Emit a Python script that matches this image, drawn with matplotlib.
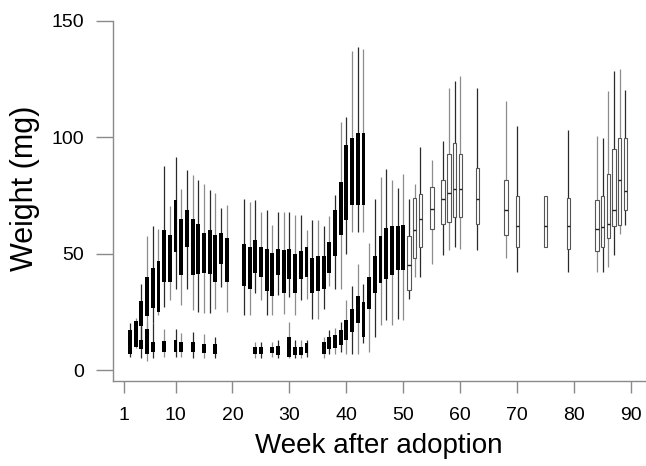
import matplotlib
matplotlib.use('Agg')
import matplotlib.pyplot as plt
import numpy as np

plt.rcParams['font.family'] = ['Liberation Sans', 'DejaVu Sans']

# heavier group (black boxes)
upper_weeks = [4, 5, 6, 7, 8, 9, 10, 11, 12, 13, 14, 15, 16, 17, 18, 19,
               22, 23, 24, 25, 26, 27, 28, 29, 30, 31, 32, 33, 34, 35, 36, 37, 38, 39, 40, 41, 42, 43]
upper_q1 = [18.9, 23, 26.5, 25, 37.9, 37.9, 50.7, 40.7, 52.9, 40.7, 41.4, 41.7, 41.4, 37.9, 45.7, 37.9,
            36, 35, 41.7, 40, 34, 31.7, 40.7, 32.9, 38.9, 32.9, 38.9, 40, 32.9, 34, 35, 41.7, 48.9, 57.9, 64.6, 70.7, 70.7, 70.7]
upper_q3 = [29.7, 39.8, 43.6, 46.8, 60, 57.9, 72.9, 65, 68.9, 64.7, 62.9, 58.9, 60, 57.9, 58.9, 56.9,
            54, 52.9, 55.7, 52.9, 52.1, 50.4, 52.1, 51.4, 52.1, 50, 51.1, 52.9, 47.9, 48.9, 48.9, 55, 68.9, 80.7, 96.5, 99.5, 101.8, 101.8]
upper_lo = [12, 14, 20, 23.6, 27.1, 30, 35, 27.9, 35, 25.7, 25, 24.3, 24.3, 26, 35.7, 25,
            23.6, 23.6, 33.1, 30, 23.6, 23.6, 32.1, 24, 31.4, 23.6, 30, 30.7, 22.1, 22.1, 26, 36, 35, 35, 50, 59.3, 59.3, 59.3]
upper_hi = [37, 57.4, 62, 60.7, 87.4, 70.5, 91.4, 77.6, 85.7, 83.9, 81.4, 80, 77.1, 76, 69.7, 71,
            73.6, 72, 72.9, 68, 68.6, 62.1, 67.9, 67.9, 67.9, 66.4, 66.4, 60.3, 64.3, 64.6, 62, 66, 75, 106.4, 108.6, 136.9, 138.6, 138]

# lighter group (black boxes, rising after week 36)
lower_weeks = [2, 3, 4, 5, 6, 8, 10, 11, 13, 15, 17, 24, 25, 27, 28, 30, 31, 32, 33,
               36, 37, 38, 39, 40, 41, 42, 43, 44, 45, 46, 47, 48, 49, 50]
lower_q1 = [6.9, 10, 8.9, 6.9, 7.9, 7.9, 7.9, 7.9, 7.9, 7.4, 6.9, 6.9, 6.9, 7.1, 6.4, 5.4, 6.4, 6.4, 7.1,
            6.9, 8.9, 9.3, 10.7, 12.9, 16.4, 20, 14, 26.4, 33, 37.4, 38.9, 40.7, 42.9, 42.9]
lower_q3 = [17.1, 21.1, 12.9, 17.4, 12.1, 12.4, 12.9, 11.9, 11.9, 11.1, 11.1, 10, 10, 10, 10.3, 14, 10, 10, 11.4,
            12.1, 14, 15, 17.1, 21.4, 26, 31.6, 29.3, 40, 49, 57.4, 61, 61.7, 61.7, 62.1]
lower_lo = [5.7, 9.4, 5, 4, 5, 5.7, 5.5, 5.5, 5, 5, 5, 5, 5, 5.5, 5, 5, 5, 5, 5.5,
            5, 7, 7, 7.9, 7, 7, 6.9, 11.4, 7.9, 14, 19.3, 21.4, 19.3, 22, 21.4]
lower_hi = [20, 22.3, 19, 20.7, 20, 17.6, 17.5, 16, 16.5, 15.5, 14, 12, 12, 12, 13, 20.7, 13, 13, 13,
            14, 17, 18, 20.7, 30, 36, 45.7, 37.1, 54.6, 73.6, 82.9, 86.4, 81.7, 78, 84.3]

# later weeks (open boxes with median)
white_weeks = [51, 52, 53, 55, 57, 58, 59, 60, 63, 68, 70, 75, 79, 84, 85, 86, 87, 88, 89]
white_q1 = [34.5, 47.9, 52.9, 60.7, 62.9, 63.6, 65.7, 65.7, 62.9, 57.9, 52.9, 52.9, 51.9, 51.1, 52.9, 56.9, 61.7, 62.1, 68.9]
white_med = [45, 60, 65, 69.3, 73.6, 76, 77.9, 77.9, 73.6, 68.9, 61.9, 61.9, 61.9, 60.7, 61.4, 62.9, 68.9, 81.7, 76.9]
white_q3 = [57.7, 73.9, 75.7, 78.6, 81.7, 92.6, 97.6, 92.6, 86.7, 81.7, 74.7, 74.7, 73.9, 72.9, 74.6, 84, 94.7, 99.7, 99.7]
white_lo = [30.7, 40, 40, 45.7, 49.3, 51.4, 52.9, 52.1, 51.4, 48.3, 42.1, 52.9, 42.1, 42.1, 42.1, 44.3, 49.3, 58.6, 62.1]
white_hi = [73.6, 80, 95.7, 90.3, 98.3, 121.1, 124.3, 126.4, 121.1, 115.7, 104.6, 74.7, 103, 100.3, 99.7, 119.7, 128.6, 129.3, 120.3]

xticks = [1, 10, 20, 30, 40, 50, 60, 70, 80, 90]
yticks = [0, 50, 100, 150]

fig = plt.figure(figsize=(6.46, 4.66), dpi=100)
ax = fig.add_axes([0.1745, 0.183, 0.8245, 0.7726])


def whiskers(weeks, lo, hi):
    cols = ['#2a2a2a' if i % 2 == 0 else '#8c8c8c' for i in range(len(weeks))]
    ax.vlines(weeks, lo, hi, colors=cols, linewidth=0.9, zorder=2)


for wk, q1, q3, lo, hi in [(upper_weeks, upper_q1, upper_q3, upper_lo, upper_hi),
                           (lower_weeks, lower_q1, lower_q3, lower_lo, lower_hi)]:
    whiskers(wk, lo, hi)
    ax.bar(wk, np.array(q3) - np.array(q1), bottom=q1, width=0.68,
           color='black', zorder=3)

whiskers(white_weeks, white_lo, white_hi)
ax.bar(white_weeks, np.array(white_q3) - np.array(white_q1), bottom=white_q1, width=0.6,
       facecolor='white', edgecolor='#555555', linewidth=0.8, zorder=3)
ax.hlines(white_med, np.array(white_weeks) - 0.3, np.array(white_weeks) + 0.3,
          colors='#222222', linewidth=1, zorder=4)

ax.set_xlim(-1.03, 92.5)
ax.set_ylim(-4.6, 150)
ax.set_xticks(xticks)
ax.set_yticks(yticks)
for s in ['top', 'right']:
    ax.spines[s].set_visible(False)
for s in ['left', 'bottom']:
    ax.spines[s].set_color('#8a8a8a')
    ax.spines[s].set_linewidth(1)
ax.tick_params(axis='x', length=8.6, width=1, color='#8a8a8a', pad=10, labelsize=14)
ax.tick_params(axis='y', length=12.2, width=1, color='#8a8a8a', pad=8.5, labelsize=14)

ax.set_xlabel('Week after adoption', fontsize=20, labelpad=7)
ax.set_ylabel('Weight (mg)', fontsize=22)
ax.yaxis.set_label_coords(-0.137, 0.535)

fig.savefig('out.png', dpi=100)
